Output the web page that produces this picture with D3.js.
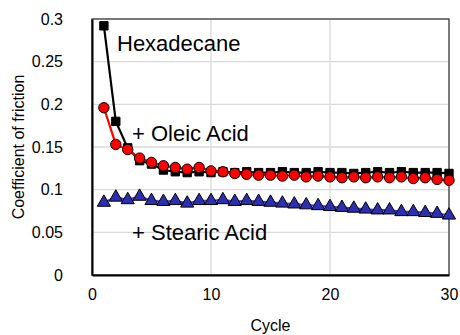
<!DOCTYPE html>
<html>
<head>
<meta charset="utf-8">
<script src="https://cdn.jsdelivr.net/npm/d3@7"></script>
<style>
  body { margin: 0; background: #fff; }
  svg text { font-family: "Liberation Sans", Arial, sans-serif; fill: #000; }
</style>
</head>
<body>
<div id="chart"></div>
<script>
// data
var cycles = d3.range(1, 31);
var hexadecane = [0.292, 0.180, 0.149, 0.134, 0.130, 0.123, 0.121, 0.120, 0.121, 0.120,
  0.121, 0.120, 0.121, 0.120, 0.120, 0.121, 0.120, 0.120, 0.121, 0.120,
  0.120, 0.119, 0.120, 0.121, 0.120, 0.121, 0.120, 0.120, 0.120, 0.119];
var oleicAcid = [0.196, 0.153, 0.147, 0.137, 0.132, 0.128, 0.126, 0.124, 0.126, 0.122,
  0.121, 0.119, 0.118, 0.117, 0.117, 0.116, 0.117, 0.115, 0.116, 0.115,
  0.114, 0.115, 0.114, 0.115, 0.114, 0.115, 0.113, 0.114, 0.112, 0.111];
var stearicAcid = [0.085, 0.091, 0.088, 0.092, 0.087, 0.086, 0.087, 0.084, 0.087, 0.087,
  0.088, 0.086, 0.087, 0.086, 0.085, 0.084, 0.083, 0.082, 0.081, 0.080,
  0.079, 0.078, 0.077, 0.076, 0.076, 0.074, 0.074, 0.073, 0.072, 0.070];
var xTicks = [0, 10, 20, 30];
var yTicks = [0, 0.05, 0.1, 0.15, 0.2, 0.25, 0.3];

var svgWidth = 460;
var svgHeight = 335;
var margin = { top: 19, right: 11, bottom: 60, left: 92 };
var chartWidth = svgWidth - margin.left - margin.right;
var chartHeight = svgHeight - margin.top - margin.bottom;

var svg = d3.select("#chart")
  .append("svg")
  .attr("width", svgWidth)
  .attr("height", svgHeight);

var chartGroup = svg.append("g")
  .attr("transform", `translate(${margin.left}, ${margin.top})`);

var x = d3.scaleLinear().domain([0, 30]).range([0, chartWidth]);
var y = d3.scaleLinear().domain([0, 0.3]).range([chartHeight, 0]);

// gridlines
chartGroup.append("g")
  .selectAll("line.h")
  .data(yTicks)
  .enter()
  .append("line")
  .attr("x1", 0).attr("x2", chartWidth)
  .attr("y1", d => y(d)).attr("y2", d => y(d))
  .attr("stroke", "#d9d9d9").attr("stroke-width", 1.3);

chartGroup.append("g")
  .selectAll("line.v")
  .data(xTicks)
  .enter()
  .append("line")
  .attr("x1", d => x(d)).attr("x2", d => x(d))
  .attr("y1", 0).attr("y2", chartHeight)
  .attr("stroke", "#d9d9d9").attr("stroke-width", 1.3);

// plot border
chartGroup.append("rect")
  .attr("width", chartWidth).attr("height", chartHeight)
  .attr("fill", "none").attr("stroke", "#404040").attr("stroke-width", 1.3);

// axes
var xAxis = d3.axisBottom(x).tickValues(xTicks).tickSize(0).tickPadding(14);
var yAxis = d3.axisLeft(y).tickValues(yTicks).tickSize(0).tickPadding(29)
  .tickFormat(d => d3.format("")(+d.toFixed(2)));

var gx = chartGroup.append("g")
  .attr("transform", `translate(0, ${chartHeight})`)
  .call(xAxis);
var gy = chartGroup.append("g").call(yAxis);

[gx, gy].forEach(function(g) {
  g.select(".domain").attr("stroke", "#000").attr("stroke-width", 2);
  g.selectAll("text").attr("font-size", "16px").attr("fill", "#000");
});

// series
var series = [
  { name: "stearic", values: stearicAcid, line: "#4040d0", fill: "#2e2eb0", shape: d3.symbolTriangle, size: 75 },
  { name: "hexadecane", values: hexadecane, line: "#000", fill: "#000", shape: d3.symbolSquare, size: 70 },
  { name: "oleic", values: oleicAcid, line: "#ff0000", fill: "#ff0000", shape: d3.symbolCircle, size: 85 }
];

var line = d3.line()
  .x((d, i) => x(cycles[i]))
  .y(d => y(d));

series.forEach(function(s) {
  chartGroup.append("path")
    .datum(s.values)
    .attr("d", line)
    .attr("fill", "none")
    .attr("stroke", s.line)
    .attr("stroke-width", 2.2);

  chartGroup.selectAll("path.m-" + s.name)
    .data(s.values)
    .enter()
    .append("path")
    .attr("class", "m-" + s.name)
    .attr("transform", (d, i) => `translate(${x(cycles[i])}, ${y(d)})`)
    .attr("d", d3.symbol().type(s.shape).size(s.size))
    .attr("fill", s.fill)
    .attr("stroke", "#000")
    .attr("stroke-width", 1);
});

// annotations
chartGroup.append("text").attr("x", 25).attr("y", 32).attr("font-size", "22px").text("Hexadecane");
chartGroup.append("text").attr("x", 40).attr("y", 122).attr("font-size", "22px").text("+ Oleic Acid");
chartGroup.append("text").attr("x", 40).attr("y", 221).attr("font-size", "22px").text("+ Stearic Acid");

// axis titles
svg.append("text")
  .attr("text-anchor", "middle")
  .attr("x", margin.left + chartWidth / 2)
  .attr("y", 331)
  .attr("font-size", "16px")
  .text("Cycle");

svg.append("text")
  .attr("text-anchor", "middle")
  .attr("transform", `translate(24, ${margin.top + chartHeight / 2}) rotate(-90)`)
  .attr("font-size", "16px")
  .text("Coefficient of friction");
</script>
</body>
</html>
